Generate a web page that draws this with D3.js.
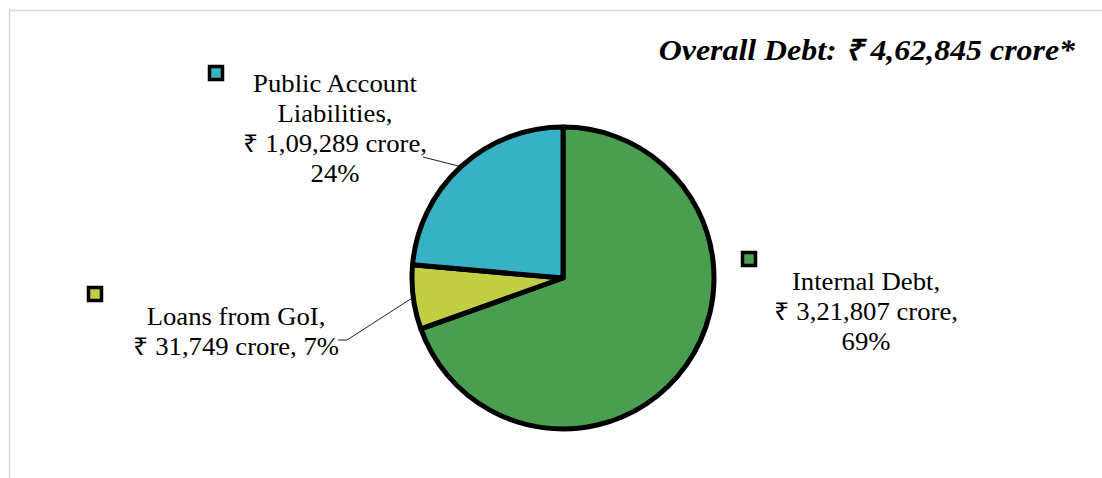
<!DOCTYPE html>
<html>
<head>
<meta charset="utf-8">
<script src="https://cdn.jsdelivr.net/npm/d3@7/dist/d3.min.js"></script>
<style>
  html, body { margin: 0; padding: 0; background: #fff; }
  svg { display: block; }
</style>
</head>
<body>
<svg id="chart" width="1102" height="478"></svg>
<script>
// Composition of outstanding debt (₹ crore)
const categories = ["Internal Debt", "Loans from GoI", "Public Account Liabilities"];
const values = [321807, 31749, 109289];
const percents = [69, 7, 24];
const colors = ["#4a9e4f", "#c2cf43", "#37b1c4"];
const titleText = "Overall Debt: ₹ 4,62,845 crore*";

// Label text lines per slice
const labelLines = [
  ["Internal Debt,", "₹ 3,21,807 crore,", "69%"],
  ["Loans from GoI,", "₹ 31,749 crore, 7%"],
  ["Public Account", "Liabilities,", "₹ 1,09,289 crore,", "24%"]
];

// Layout: label centre / first baseline, marker square, leader end points
const layout = {
  cx: 563, cy: 278, r: 151,
  labels: [
    { x: 866, y: 290, square: [741, 251], leader: null },
    { x: 236, y: 325, square: [87, 286], leader: [[347, 340], [338, 340]] },
    { x: 335, y: 92, square: [208, 65], leader: [[423, 157]] }
  ],
  lineHeight: 30
};

const FONT = '"Liberation Serif", "Times New Roman", serif';
const svg = d3.select("#chart");

// Light frame along the top and left edges
svg.append("line").attr("x1", 9).attr("x2", 1102).attr("y1", 10.5).attr("y2", 10.5)
  .attr("stroke", "#d6d6d6").attr("stroke-width", 1.5);
svg.append("line").attr("x1", 9.5).attr("x2", 9.5).attr("y1", 9).attr("y2", 478)
  .attr("stroke", "#d6d6d6").attr("stroke-width", 1.5);

const data = categories.map((c, i) => ({ name: c, value: values[i], pct: percents[i], color: colors[i], i }));

const pie = d3.pie().value(d => d.value).sort(null).startAngle(0).endAngle(2 * Math.PI);
const arcs = pie(data);
const arc = d3.arc().innerRadius(0).outerRadius(layout.r);

// Leader lines (drawn under the slices)
const leaderG = svg.append("g");
arcs.forEach(a => {
  const lab = layout.labels[a.data.i];
  if (!lab.leader) return;
  const mid = (a.startAngle + a.endAngle) / 2;
  const start = [layout.cx + Math.sin(mid) * layout.r, layout.cy - Math.cos(mid) * layout.r];
  const pts = [start].concat(lab.leader);
  leaderG.append("path")
    .attr("d", d3.line()(pts))
    .attr("fill", "none")
    .attr("stroke", "#222")
    .attr("stroke-width", 1);
});

const g = svg.append("g").attr("transform", `translate(${layout.cx},${layout.cy})`);
g.selectAll("path.slice")
  .data(arcs)
  .join("path")
  .attr("class", "slice")
  .attr("d", arc)
  .attr("fill", d => d.data.color)
  .attr("stroke", "#000")
  .attr("stroke-width", 5)
  .attr("stroke-linejoin", "round");

// Labels with marker squares
arcs.forEach(a => {
  const lab = layout.labels[a.data.i];
  svg.append("rect")
    .attr("x", lab.square[0] + 1.5).attr("y", lab.square[1] + 1.5)
    .attr("width", 13).attr("height", 13)
    .attr("fill", a.data.color)
    .attr("stroke", "#000").attr("stroke-width", 3.5);

  const t = svg.append("g").attr("transform", `translate(${lab.x},${lab.y}) scale(1.09,1)`);
  labelLines[a.data.i].forEach((line, k) => {
    t.append("text")
      .attr("x", 0)
      .attr("y", k * layout.lineHeight)
      .attr("text-anchor", "middle")
      .style("font-family", FONT)
      .style("font-size", "24.5px")
      .style("fill", "#000")
      .text(line);
  });
});

// Title
svg.append("g")
  .attr("transform", "translate(1075,60) scale(1.1,1)")
  .append("text")
  .attr("text-anchor", "end")
  .style("font-family", FONT)
  .style("font-size", "29px")
  .style("font-weight", "bold")
  .style("font-style", "italic")
  .style("fill", "#000")
  .text(titleText);
</script>
</body>
</html>
